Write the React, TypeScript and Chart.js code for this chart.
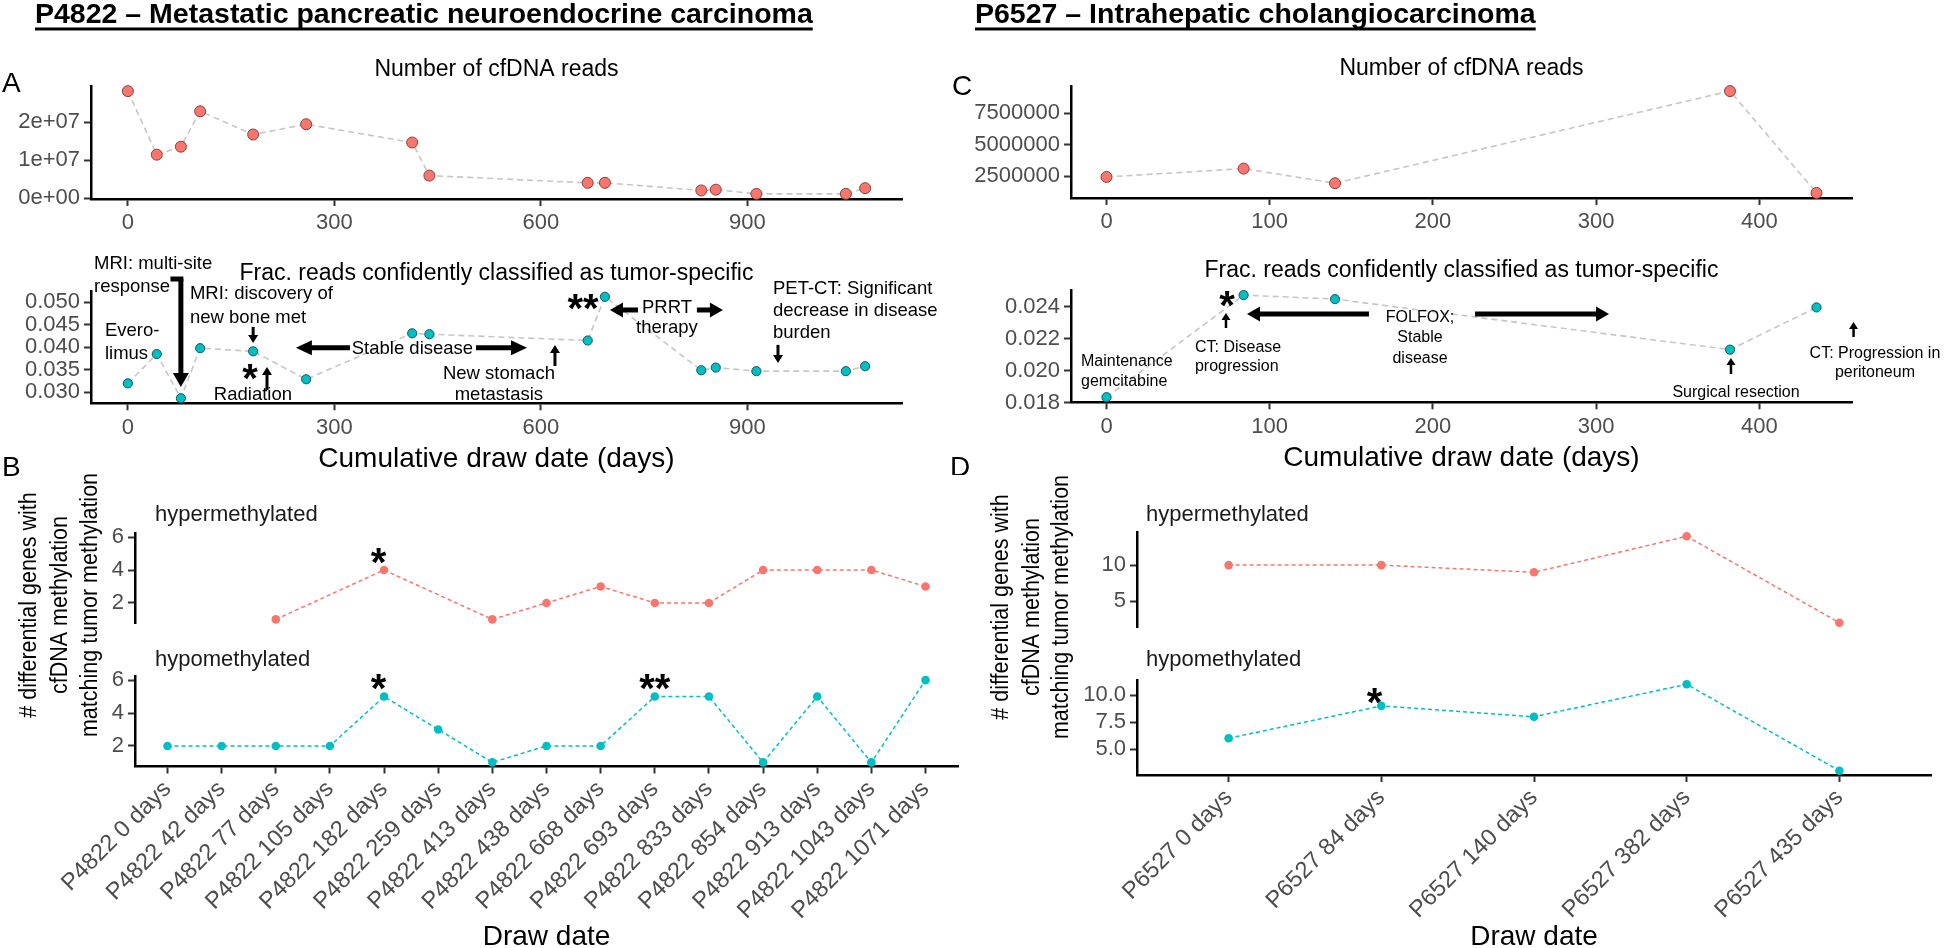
import React, { useEffect, useRef } from 'react';
import { Chart, registerables } from 'chart.js';
Chart.register(...registerables);

const FONT = '"Liberation Sans", Arial, Helvetica, sans-serif';

// ---------------- P4822 data ----------------
const p4822Days = [0, 42, 77, 105, 182, 259, 413, 438, 668, 693, 833, 854, 913, 1043, 1071];
const p4822Reads = [2.82e7, 1.15e7, 1.36e7, 2.29e7, 1.68e7, 1.95e7, 1.47e7, 0.6e7, 0.41e7, 0.41e7, 0.21e7, 0.23e7, 0.12e7, 0.12e7, 0.27e7];
const p4822Frac = [0.032, 0.0385, 0.0287, 0.0398, 0.0391, 0.0329, 0.0431, 0.0429, 0.0415, 0.0512, 0.0349, 0.0355, 0.0347, 0.0347, 0.0358];
const p4822DrawLabels = [
  'P4822 0 days', 'P4822 42 days', 'P4822 77 days', 'P4822 105 days', 'P4822 182 days',
  'P4822 259 days', 'P4822 413 days', 'P4822 438 days', 'P4822 668 days', 'P4822 693 days',
  'P4822 833 days', 'P4822 854 days', 'P4822 913 days', 'P4822 1043 days', 'P4822 1071 days',
];
const p4822Hyper = [null, null, 1, null, 4, null, 1, 2, 3, 2, 2, 4, 4, 4, 3];
const p4822Hypo = [2, 2, 2, 2, 5, 3, 1, 2, 2, 5, 5, 1, 5, 1, 6];

// ---------------- P6527 data ----------------
const p6527Days = [0, 84, 140, 382, 435];
const p6527Reads = [2.45e6, 3.11e6, 1.95e6, 9.27e6, 1.18e6];
const p6527Frac = [0.01835, 0.02473, 0.02448, 0.02132, 0.02396];
const p6527DrawLabels = ['P6527 0 days', 'P6527 84 days', 'P6527 140 days', 'P6527 382 days', 'P6527 435 days'];
const p6527Hyper = [10, 10, 9, 14, 2];
const p6527Hypo = [6, 9, 8, 11, 3];

// ---------------- ticks ----------------
const p4822DayTicks = [0, 300, 600, 900];
const p4822ReadTicks = [0, 1e7, 2e7];
const p4822ReadTickLabels = ['0e+00', '1e+07', '2e+07'];
const p4822FracTicks = [0.03, 0.035, 0.04, 0.045, 0.05];
const p4822FracTickLabels = ['0.030', '0.035', '0.040', '0.045', '0.050'];
const p4822CountTicks = [2, 4, 6];
const p6527DayTicks = [0, 100, 200, 300, 400];
const p6527ReadTicks = [2500000, 5000000, 7500000];
const p6527ReadTickLabels = ['2500000', '5000000', '7500000'];
const p6527FracTicks = [0.018, 0.02, 0.022, 0.024];
const p6527FracTickLabels = ['0.018', '0.020', '0.022', '0.024'];
const p6527HyperTicks = [5, 10];
const p6527HyperTickLabels = ['5', '10'];
const p6527HypoTicks = [5, 7.5, 10];
const p6527HypoTickLabels = ['5.0', '7.5', '10.0'];

// ---------------- styles ----------------
const RED = '#F8766D';
const RED_EDGE = '#8a3f39';
const TEAL = '#00BFC4';
const TEAL_EDGE = '#12585a';
const GREY_LINE = '#c6c6c6';
const TICK_COL = '#4d4d4d';
const A_SIZE = 18.5;
const C_SIZE = 16;
const STAR_SIZE = 40;

type Rect = { x: number; y: number; w: number; h: number };
type Plot = { l: number; t: number; r: number; b: number };
type Item = any;
type AxisSpec = { min: number; max: number; ticks?: number[]; labels?: string[]; show: boolean; rot?: number; pad?: number; size?: number };
type Spec = { rect: Rect; plot: Plot; datasets: any[]; x: AxisSpec; y: AxisSpec; items: Item[] };

function expand(vals: (number | null)[], mult = 0.05): [number, number] {
  const v = vals.filter((n) => n !== null) as number[];
  const lo = Math.min(...v);
  const hi = Math.max(...v);
  const r = hi - lo;
  return [lo - mult * r, hi + mult * r];
}

function pts(xs: number[], ys: (number | null)[]) {
  return xs.map((x, i) => ({ x, y: ys[i] }));
}

function scatterLine(xs: number[], ys: number[], fill: string, edge: string, radius: number) {
  return {
    data: pts(xs, ys),
    borderColor: GREY_LINE,
    borderWidth: 1.6,
    borderDash: [6, 4],
    pointRadius: radius,
    pointBackgroundColor: fill,
    pointBorderColor: edge,
    pointBorderWidth: 1,
    tension: 0,
    clip: false,
  };
}

function methLine(ys: (number | null)[], color: string) {
  return {
    data: ys.map((y, i) => ({ x: i, y })),
    borderColor: color,
    borderWidth: 1.5,
    borderDash: [4, 3],
    pointRadius: 4.3,
    pointBackgroundColor: color,
    pointBorderWidth: 0,
    spanGaps: true,
    tension: 0,
    clip: false,
  };
}

function decorPlugin(items: Item[], rect: Rect, idx: number) {
  return {
    id: 'decor' + idx,
    afterDraw(chart: any) {
      const ctx: CanvasRenderingContext2D = chart.ctx;
      const sx = chart.scales.x;
      const sy = chart.scales.y;
      const P = (it: Item, x: number, y: number): [number, number] =>
        it.data ? [sx.getPixelForValue(x), sy.getPixelForValue(y)] : [x - rect.x, y - rect.y];
      ctx.save();
      for (const it of items) {
        if (it.k === 'text' || it.k === 'star') {
          const [x, y] = P(it, it.x, it.y);
          const size = it.k === 'star' ? STAR_SIZE : it.size;
          const bold = it.k === 'star' || it.bold;
          ctx.font = `${bold ? 'bold ' : ''}${size}px ${FONT}`;
          ctx.fillStyle = it.color || '#000';
          ctx.textAlign = it.k === 'star' ? 'center' : it.align || 'left';
          ctx.textBaseline = 'alphabetic';
          const off = it.k === 'star' ? 0.58 * size : 0.35 * size;
          const lines: string[] = it.k === 'star' ? [it.text] : it.lines;
          const lh = it.lh || size * 1.2;
          if (it.rot) {
            ctx.save();
            ctx.translate(x, y);
            ctx.rotate(-Math.PI / 2);
            ctx.scale(1, 1.15);
            ctx.fillText(lines[0], 0, off);
            ctx.restore();
            continue;
          }
          lines.forEach((s, i) => {
            const by = y + i * lh + off;
            ctx.fillText(s, x, by);
            if (it.underline) {
              const w = ctx.measureText(s).width;
              ctx.fillRect(x, by + 4.5, w, 3);
            }
          });
        } else if (it.k === 'line') {
          const [x1, y1] = P(it, it.x1, it.y1);
          const [x2, y2] = P(it, it.x2, it.y2);
          ctx.strokeStyle = '#000';
          ctx.lineWidth = it.w;
          ctx.lineCap = it.cap || 'butt';
          ctx.beginPath();
          ctx.moveTo(x1, y1);
          ctx.lineTo(x2, y2);
          ctx.stroke();
        } else if (it.k === 'arrow') {
          const [x1, y1] = P(it, it.x1, it.y1);
          const [x2, y2] = P(it, it.x2, it.y2);
          const dx = x2 - x1;
          const dy = y2 - y1;
          const L = Math.hypot(dx, dy) || 1;
          const ux = dx / L;
          const uy = dy / L;
          const bx = x2 - ux * it.hl;
          const by = y2 - uy * it.hl;
          ctx.strokeStyle = '#000';
          ctx.lineWidth = it.w;
          ctx.lineCap = it.cap || 'butt';
          ctx.beginPath();
          ctx.moveTo(x1, y1);
          ctx.lineTo(bx + ux, by + uy);
          ctx.stroke();
          ctx.fillStyle = '#000';
          ctx.beginPath();
          ctx.moveTo(x2, y2);
          ctx.lineTo(bx - (uy * it.hw) / 2, by + (ux * it.hw) / 2);
          ctx.lineTo(bx + (uy * it.hw) / 2, by - (ux * it.hw) / 2);
          ctx.closePath();
          ctx.fill();
        }
      }
      ctx.restore();
    },
  };
}

function axisOpts(a: AxisSpec, size: number, isX: boolean) {
  return {
    type: 'linear',
    position: isX ? 'bottom' : 'left',
    min: a.min,
    max: a.max,
    afterBuildTicks: (sc: any) => {
      sc.ticks = (a.ticks || []).map((v) => ({ value: v }));
    },
    afterFit: (sc: any) => {
      if (isX) sc.height = size;
      else sc.width = size;
      sc.paddingLeft = 0;
      sc.paddingRight = 0;
      sc.paddingTop = 0;
      sc.paddingBottom = 0;
    },
    grid: {
      display: a.show,
      drawOnChartArea: false,
      drawTicks: a.show,
      tickLength: 7,
      tickColor: '#333333',
      tickWidth: 2,
    },
    border: { display: a.show, color: '#000', width: 2.5 },
    ticks: {
      display: a.show,
      autoSkip: false,
      font: { family: FONT, size: a.size ?? 22 },
      color: TICK_COL,
      padding: a.pad ?? 4,
      minRotation: a.rot || 0,
      maxRotation: a.rot || 0,
      callback: (v: any, i: number) => (a.labels ? a.labels[i] : String(v)),
    },
  };
}

function build(canvas: HTMLCanvasElement, s: Spec, idx: number) {
  const pad = { left: 0, top: s.plot.t - s.rect.y, right: s.rect.x + s.rect.w - s.plot.r, bottom: 0 };
  const yW = s.plot.l - s.rect.x;
  const xH = s.rect.y + s.rect.h - s.plot.b;
  return new Chart(canvas, {
    type: 'line',
    data: { datasets: s.datasets },
    options: {
      animation: false,
      responsive: false,
      devicePixelRatio: 1,
      events: [],
      layout: { padding: pad, autoPadding: false } as any,
      plugins: { legend: { display: false }, tooltip: { enabled: false }, title: { display: false } },
      scales: { x: axisOpts(s.x, xH, true) as any, y: axisOpts(s.y, yW, false) as any },
    },
    plugins: [decorPlugin(s.items, s.rect, idx)],
  });
}

// ---------------- ranges ----------------
const [p4822DayMin, p4822DayMax] = expand(p4822Days);
const [p6527DayMin, p6527DayMax] = expand(p6527Days);
const [p4822ReadMin, p4822ReadMax] = expand(p4822Reads);
const [p6527ReadMin, p6527ReadMax] = expand(p6527Reads);
const [p4822FracMin, p4822FracMax] = expand(p4822Frac);
const [p6527FracMin, p6527FracMax] = expand(p6527Frac);
const [p4822CountMin, p4822CountMax] = expand([...p4822Hyper, ...p4822Hypo]);
const [p6527HyperMin, p6527HyperMax] = expand(p6527Hyper);
const [p6527HypoMin, p6527HypoMax] = expand(p6527Hypo);
const p4822Idx = p4822DrawLabels.map((_, i) => i);
const p6527Idx = p6527DrawLabels.map((_, i) => i);

const yTitle = (cx: number[], cy: number) => [
  { k: 'text', rot: true, x: cx[0], y: cy, lines: ['# differential genes with'], size: 21.5, align: 'center' },
  { k: 'text', rot: true, x: cx[1], y: cy, lines: ['cfDNA methylation'], size: 21.5, align: 'center' },
  { k: 'text', rot: true, x: cx[2], y: cy, lines: ['matching tumor methylation'], size: 21.5, align: 'center' },
];

const specs: Spec[] = [
  // A top: reads
  {
    rect: { x: 0, y: 0, w: 940, h: 240 },
    plot: { l: 91, t: 86, r: 902, b: 199 },
    datasets: [scatterLine(p4822Days, p4822Reads, RED, RED_EDGE, 5.5)],
    x: { min: p4822DayMin, max: p4822DayMax, ticks: p4822DayTicks, show: true },
    y: { min: p4822ReadMin, max: p4822ReadMax, ticks: p4822ReadTicks, labels: p4822ReadTickLabels, show: true },
    items: [
      { k: 'text', x: 35, y: 13, lines: ['P4822 – Metastatic pancreatic neuroendocrine carcinoma'], size: 28.5, bold: true, underline: true },
      { k: 'text', x: 2, y: 82, lines: ['A'], size: 28 },
      { k: 'text', x: 496.5, y: 68, lines: ['Number of cfDNA reads'], size: 23, align: 'center' },
    ],
  },
  // A bottom: fraction
  {
    rect: { x: 0, y: 240, w: 940, h: 235 },
    plot: { l: 91, t: 291.7, r: 902, b: 403.3 },
    datasets: [scatterLine(p4822Days, p4822Frac, TEAL, TEAL_EDGE, 4.6)],
    x: { min: p4822DayMin, max: p4822DayMax, ticks: p4822DayTicks, show: true },
    y: { min: p4822FracMin, max: p4822FracMax, ticks: p4822FracTicks, labels: p4822FracTickLabels, show: true },
    items: [
      { k: 'text', x: 496.5, y: 271.7, lines: ['Frac. reads confidently classified as tumor-specific'], size: 23, align: 'center' },
      { k: 'text', x: 496.5, y: 456.7, lines: ['Cumulative draw date (days)'], size: 28, align: 'center' },
      { k: 'text', data: true, x: -49.2, y: 0.05869, lines: ['MRI: multi-site', 'response'], size: A_SIZE, lh: 23 },
      { k: 'line', data: true, x1: 65.5, y1: 0.05514, x2: 77, y2: 0.05514, w: 5, cap: 'square' },
      { k: 'arrow', data: true, x1: 77, y1: 0.05514, x2: 77, y2: 0.03119, w: 5, hl: 14, hw: 16 },
      { k: 'text', data: true, x: 90.2, y: 0.05204, lines: ['MRI: discovery of', 'new bone met'], size: A_SIZE, lh: 24 },
      { k: 'arrow', data: true, x1: 182, y1: 0.0445, x2: 182, y2: 0.04097, w: 3, hl: 8, hw: 10 },
      { k: 'star', data: true, x: 177.4, y: 0.0352, text: '*' },
      { k: 'arrow', data: true, x1: 202.1, y1: 0.03052, x2: 202.1, y2: 0.03565, w: 3, hl: 8, hw: 10 },
      { k: 'text', data: true, x: 181.7, y: 0.02964, lines: ['Radiation'], size: A_SIZE, align: 'center' },
      { k: 'text', data: true, x: -33.3, y: 0.04383, lines: ['Evero-', 'limus'], size: A_SIZE, lh: 23 },
      { k: 'arrow', data: true, x1: 322.6, y1: 0.03991, x2: 244.1, y2: 0.03991, w: 5, hl: 16, hw: 15 },
      { k: 'text', data: true, x: 413.4, y: 0.03991, lines: ['Stable disease'], size: A_SIZE, align: 'center' },
      { k: 'arrow', data: true, x1: 505.7, y1: 0.03991, x2: 579.8, y2: 0.03991, w: 5, hl: 16, hw: 15 },
      { k: 'text', data: true, x: 539, y: 0.03436, lines: ['New stomach', 'metastasis'], size: A_SIZE, align: 'center', lh: 21.3 },
      { k: 'arrow', data: true, x1: 620.4, y1: 0.03585, x2: 620.4, y2: 0.04053, w: 3, hl: 8, hw: 10 },
      { k: 'star', data: true, x: 661.1, y: 0.05071, text: '**' },
      { k: 'arrow', data: true, x1: 741, y1: 0.04827, x2: 700.3, y2: 0.04827, w: 5, hl: 13, hw: 15 },
      { k: 'text', data: true, x: 783.1, y: 0.04893, lines: ['PRRT', 'therapy'], size: A_SIZE, align: 'center', lh: 20 },
      { k: 'arrow', data: true, x1: 826.6, y1: 0.04827, x2: 864.4, y2: 0.04827, w: 5, hl: 13, hw: 15 },
      { k: 'text', data: true, x: 937.1, y: 0.05315, lines: ['PET-CT: Significant', 'decrease in disease', 'burden'], size: A_SIZE, lh: 22 },
      { k: 'arrow', data: true, x1: 944.4, y1: 0.04053, x2: 944.4, y2: 0.03651, w: 3, hl: 8, hw: 10 },
    ],
  },
  // C top: reads
  {
    rect: { x: 940, y: 0, w: 1004, h: 240 },
    plot: { l: 1071, t: 86, r: 1852, b: 198 },
    datasets: [scatterLine(p6527Days, p6527Reads, RED, RED_EDGE, 5.5)],
    x: { min: p6527DayMin, max: p6527DayMax, ticks: p6527DayTicks, show: true },
    y: { min: p6527ReadMin, max: p6527ReadMax, ticks: p6527ReadTicks, labels: p6527ReadTickLabels, show: true },
    items: [
      { k: 'text', x: 975, y: 13, lines: ['P6527 – Intrahepatic cholangiocarcinoma'], size: 28.5, bold: true, underline: true },
      { k: 'text', x: 952, y: 85, lines: ['C'], size: 28 },
      { k: 'text', x: 1461.5, y: 67, lines: ['Number of cfDNA reads'], size: 23, align: 'center' },
    ],
  },
  // C bottom: fraction
  {
    rect: { x: 940, y: 240, w: 1004, h: 235 },
    plot: { l: 1071, t: 290, r: 1852, b: 402.3 },
    datasets: [scatterLine(p6527Days, p6527Frac, TEAL, TEAL_EDGE, 4.6)],
    x: { min: p6527DayMin, max: p6527DayMax, ticks: p6527DayTicks, show: true },
    y: { min: p6527FracMin, max: p6527FracMax, ticks: p6527FracTicks, labels: p6527FracTickLabels, show: true },
    items: [
      { k: 'text', x: 1461.5, y: 269, lines: ['Frac. reads confidently classified as tumor-specific'], size: 23, align: 'center' },
      { k: 'text', x: 1461.5, y: 456, lines: ['Cumulative draw date (days)'], size: 28, align: 'center' },
      { k: 'text', x: 950, y: 466, lines: ['D'], size: 28 },
      { k: 'star', data: true, x: 73.8, y: 0.024674, text: '*' },
      { k: 'arrow', data: true, x1: 73.2, y1: 0.022674, x2: 73.2, y2: 0.023612, w: 2.5, hl: 7, hw: 9 },
      { k: 'text', data: true, x: 54.2, y: 0.021549, lines: ['CT: Disease', 'progression'], size: C_SIZE, lh: 19 },
      { k: 'text', data: true, x: -15.6, y: 0.020674, lines: ['Maintenance', 'gemcitabine'], size: C_SIZE, lh: 20 },
      { k: 'arrow', data: true, x1: 160.8, y1: 0.023549, x2: 86.1, y2: 0.023549, w: 5, hl: 13, hw: 15 },
      { k: 'text', data: true, x: 192.1, y: 0.023424, lines: ['FOLFOX;', 'Stable', 'disease'], size: C_SIZE, align: 'center', lh: 20.5 },
      { k: 'arrow', data: true, x1: 225.8, y1: 0.023549, x2: 307.9, y2: 0.023549, w: 5, hl: 13, hw: 15 },
      { k: 'arrow', data: true, x1: 382.6, y1: 0.0198, x2: 382.6, y2: 0.020799, w: 2.5, hl: 7, hw: 9 },
      { k: 'text', data: true, x: 385.7, y: 0.018737, lines: ['Surgical resection'], size: C_SIZE, align: 'center' },
      { k: 'text', data: true, x: 470.8, y: 0.021174, lines: ['CT: Progression in', 'peritoneum'], size: C_SIZE, align: 'center', lh: 19 },
      { k: 'arrow', data: true, x1: 457.7, y1: 0.022112, x2: 457.7, y2: 0.023055, w: 2.5, hl: 7, hw: 9 },
    ],
  },
  // B hypo (bottom facet, with x axis)
  {
    rect: { x: 0, y: 440, w: 975, h: 508 },
    plot: { l: 135, t: 676, r: 958, b: 766.5 },
    datasets: [methLine(p4822Hypo, TEAL)],
    x: { min: -0.6, max: p4822DrawLabels.length - 0.4, ticks: p4822Idx, labels: p4822DrawLabels, show: true, rot: 45, pad: 2, size: 23.5 },
    y: { min: p4822CountMin, max: p4822CountMax, ticks: p4822CountTicks, show: true },
    items: [
      { k: 'text', x: 2, y: 466, lines: ['B'], size: 28 },
      ...yTitle([27, 58, 88], 605),
      { k: 'text', x: 155, y: 513, lines: ['hypermethylated'], size: 22, color: '#1a1a1a' },
      { k: 'text', x: 155, y: 658, lines: ['hypomethylated'], size: 22, color: '#1a1a1a' },
      { k: 'text', x: 546.5, y: 935, lines: ['Draw date'], size: 28, align: 'center' },
      { k: 'star', data: true, x: 3.9, y: 6.07, text: '*' },
      { k: 'star', data: true, x: 9, y: 6.07, text: '**' },
    ],
  },
  // B hyper (top facet)
  {
    rect: { x: 0, y: 490, w: 975, h: 140 },
    plot: { l: 135, t: 533, r: 958, b: 623.5 },
    datasets: [methLine(p4822Hyper, RED)],
    x: { min: -0.6, max: p4822DrawLabels.length - 0.4, ticks: [], show: false },
    y: { min: p4822CountMin, max: p4822CountMax, ticks: p4822CountTicks, show: true },
    items: [{ k: 'star', data: true, x: 3.9, y: 5.07, text: '*' }],
  },
  // D hypo
  {
    rect: { x: 940, y: 440, w: 1004, h: 508 },
    plot: { l: 1137, t: 680, r: 1931, b: 775 },
    datasets: [methLine(p6527Hypo, TEAL)],
    x: { min: -0.6, max: p6527DrawLabels.length - 0.4, ticks: p6527Idx, labels: p6527DrawLabels, show: true, rot: 45, pad: 2, size: 23.5 },
    y: { min: p6527HypoMin, max: p6527HypoMax, ticks: p6527HypoTicks, labels: p6527HypoTickLabels, show: true },
    items: [
      ...yTitle([999, 1030, 1059], 607),
      { k: 'text', x: 1146, y: 513, lines: ['hypermethylated'], size: 22, color: '#1a1a1a' },
      { k: 'text', x: 1146, y: 658, lines: ['hypomethylated'], size: 22, color: '#1a1a1a' },
      { k: 'text', x: 1534, y: 935, lines: ['Draw date'], size: 28, align: 'center' },
      { k: 'star', data: true, x: 0.955, y: 10.24, text: '*' },
    ],
  },
  // D hyper
  {
    rect: { x: 940, y: 490, w: 1004, h: 140 },
    plot: { l: 1137, t: 532, r: 1931, b: 627 },
    datasets: [methLine(p6527Hyper, RED)],
    x: { min: -0.6, max: p6527DrawLabels.length - 0.4, ticks: [], show: false },
    y: { min: p6527HyperMin, max: p6527HyperMax, ticks: p6527HyperTicks, labels: p6527HyperTickLabels, show: true },
    items: [],
  },
];

export default function App() {
  const refs = useRef<(HTMLCanvasElement | null)[]>([]);
  useEffect(() => {
    Chart.defaults.font.family = FONT;
    const charts = specs.map((s, i) => build(refs.current[i] as HTMLCanvasElement, s, i));
    return () => charts.forEach((c) => c.destroy());
  }, []);
  return (
    <div style={{ position: 'absolute', left: 0, top: 0, width: 1944, height: 948, background: '#fff', overflow: 'hidden' }}>
      {specs.map((s, i) => (
        <canvas
          key={i}
          ref={(el) => {
            refs.current[i] = el;
          }}
          width={s.rect.w}
          height={s.rect.h}
          style={{ position: 'absolute', left: s.rect.x, top: s.rect.y, width: s.rect.w, height: s.rect.h }}
        />
      ))}
    </div>
  );
}
